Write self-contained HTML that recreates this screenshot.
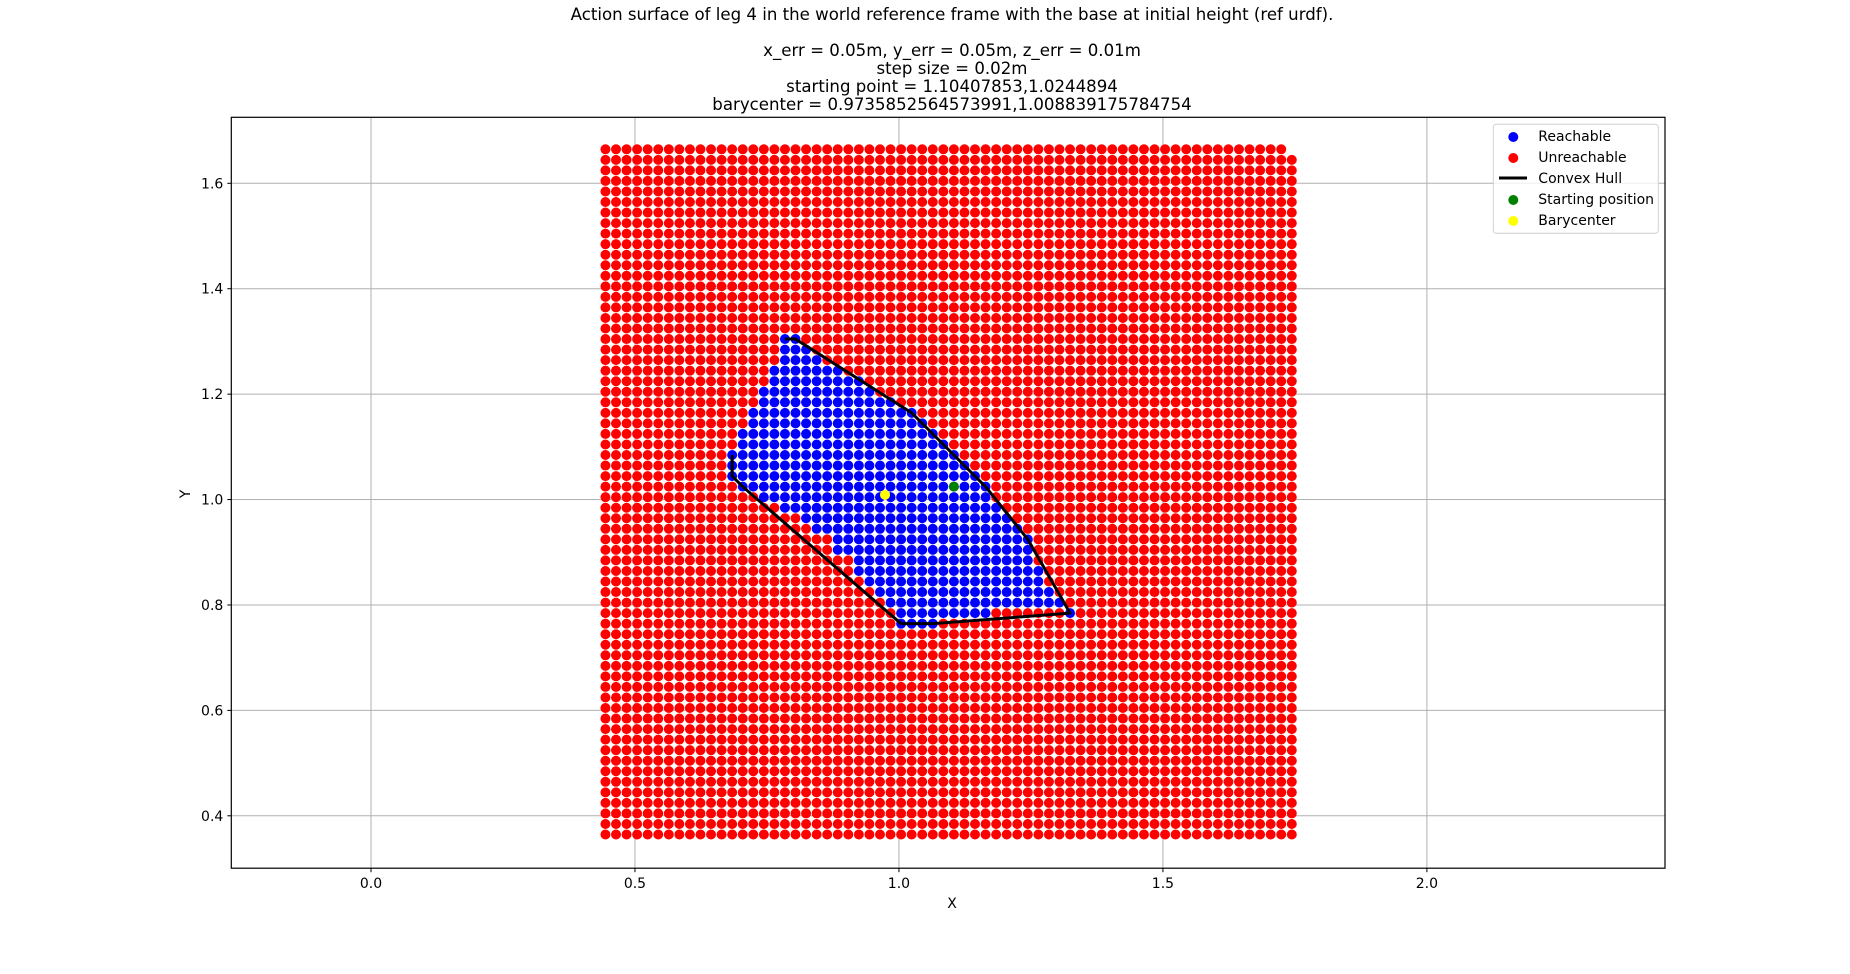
<!DOCTYPE html>
<html><head><meta charset="utf-8"><style>
html,body{margin:0;padding:0;background:#fff;}
svg{display:block;font-family:"DejaVu Sans","Liberation Sans",sans-serif;}
</style></head><body>
<svg id="chart" width="1850" height="974" viewBox="0 0 1850 974" xmlns="http://www.w3.org/2000/svg">
<g font-size="16.6" text-anchor="middle" fill="#000">
<text x="952" y="20">Action surface of leg 4 in the world reference frame with the base at initial height (ref urdf).</text>
<text x="952" y="56">x_err = 0.05m, y_err = 0.05m, z_err = 0.01m</text>
<text x="952" y="74">step size = 0.02m</text>
<text x="952" y="92">starting point = 1.10407853,1.0244894</text>
<text x="952" y="110">barycenter = 0.9735852564573991,1.008839175784754</text>
</g>
<g id="grid"></g>
<g id="ticks"></g>
<g id="plot"></g>
<rect x="231.3" y="117.3" width="1433.7" height="750.9" fill="none" stroke="#000" stroke-width="1.2"/>
<text x="952" y="908" font-size="14" text-anchor="middle">X</text>
<text x="190" y="494" font-size="14" text-anchor="middle" transform="rotate(-90 190 494)">Y</text>
<g>
<rect x="1493.3" y="124.3" width="165" height="109" rx="3" fill="#fff" fill-opacity="0.8" stroke="#d0d0d0"/>
<g><circle cx="1513.3" cy="137" r="5" fill="#0000ff"/><text x="1538.3" y="141" font-size="14">Reachable</text></g>
<g><circle cx="1513.3" cy="158" r="5" fill="#ff0000"/><text x="1538.3" y="162" font-size="14">Unreachable</text></g>
<g><line x1="1499" y1="178" x2="1527" y2="178" stroke="#000" stroke-width="3"/><text x="1538.3" y="183" font-size="14">Convex Hull</text></g>
<g><circle cx="1513.3" cy="200" r="5" fill="#008000"/><text x="1538.3" y="204" font-size="14">Starting position</text></g>
<g><circle cx="1513.3" cy="221" r="5" fill="#ffff00"/><text x="1538.3" y="225" font-size="14">Barycenter</text></g>
</g>
</svg>
<script>
// ---- data ----
const startPoint = [1.10407853, 1.0244894];
const barycenter = [0.9735852564573991, 1.008839175784754];
const stepSize = 0.02;
const gridColMin = -33, gridColMax = 32;
const gridRowMin = -33, gridRowMax = 32;
const reachRows  = [14,13,12,11,10,9,8,7,6,5,4,3,2,1,0,-1,-2,-3,-4,-5,-6,-7,-8,-9,-10,-11,-12,-13];
const reachLeft  = [17,17,17,16,16,15,15,14,14,13,13,12,12,12,13,15,17,19,20,22,22,24,24,25,26,27,28,28];
const reachRight = [18,19,20,22,24,25,27,29,30,31,32,33,34,35,36,36,37,38,39,40,40,40,41,41,42,43,36,31];
const extraReach = [[44,-12]];
const xTicks = [0.0, 0.5, 1.0, 1.5, 2.0];
const yTicks = [0.4, 0.6, 0.8, 1.0, 1.2, 1.4, 1.6];
const xTickLabels = ["0.0","0.5","1.0","1.5","2.0"];
const yTickLabels = ["0.4","0.6","0.8","1.0","1.2","1.4","1.6"];

// ---- axes ----
const AX = {l:231.3, r:1665, t:117.3, b:868.2};
const xMin = -0.2646, xMax = 2.451;
const yPx16 = 183.3, yPx04 = 815.8;
const pxPerY = (yPx04 - yPx16) / 1.2;
const yMax = 1.6 + (yPx16 - AX.t) / pxPerY, yMin = 0.4 - (AX.b - yPx04) / pxPerY;
const sx = v => AX.l + (v - xMin) / (xMax - xMin) * (AX.r - AX.l);
const sy = v => AX.b - (v - yMin) / (yMax - yMin) * (AX.b - AX.t);
const NS = "http://www.w3.org/2000/svg";
function mk(tag, attrs, parent){const e=document.createElementNS(NS,tag);for(const k in attrs)e.setAttribute(k,attrs[k]);parent.appendChild(e);return e;}
const grid=document.getElementById('grid'), ticks=document.getElementById('ticks'), plot=document.getElementById('plot');

xTicks.forEach((v,k)=>{
  const g=mk('line',{x1:sx(v),x2:sx(v),y1:AX.t,y2:AX.b,stroke:'#b0b0b0','stroke-width':1},grid);
  
  
  const t=mk('line',{x1:sx(v),x2:sx(v),y1:AX.b,y2:AX.b+4,stroke:'#000','stroke-width':1},ticks);
  
  
  const l=mk('text',{x:sx(v),y:AX.b+20,'font-size':14,'text-anchor':'middle'},ticks);
  l.textContent=xTickLabels[k];
  
  
});
yTicks.forEach((v,k)=>{
  const g=mk('line',{x1:AX.l,x2:AX.r,y1:sy(v),y2:sy(v),stroke:'#b0b0b0','stroke-width':1},grid);
  
  
  const t=mk('line',{x1:AX.l-4,x2:AX.l,y1:sy(v),y2:sy(v),stroke:'#000','stroke-width':1},ticks);
  
  
  const l=mk('text',{x:AX.l-8,y:sy(v)+5,'font-size':14,'text-anchor':'end'},ticks);
  l.textContent=yTickLabels[k];
  
  
});

const reach = new Set();
reachRows.forEach((j,k)=>{for(let i=reachLeft[k];i<=reachRight[k];i++)reach.add(i+','+j);});
extraReach.forEach(p=>reach.add(p[0]+','+p[1]));
const blue=[], red=[];
for(let j=gridRowMin;j<=gridRowMax;j++){
  for(let c=gridColMin;c<=gridColMax;c++){
    const i=c-gridColMin;
    if(c===gridColMax && j===gridRowMax) continue;
    const p=[startPoint[0]+c*stepSize, startPoint[1]+j*stepSize];
    (reach.has(i+','+j)?blue:red).push(p);
  }
}
const redG=mk('g',{fill:'#ff0000'},plot);


red.forEach(p=>{const c=mk('circle',{cx:sx(p[0]),cy:sy(p[1]),r:5},redG);
  
  });
const blueG=mk('g',{fill:'#0000ff'},plot);


blue.forEach(p=>{const c=mk('circle',{cx:sx(p[0]),cy:sy(p[1]),r:5},blueG);
  
  });

// convex hull (monotone chain); drawn open, missing the top-left edge as in the reference
const pts=blue.slice().sort((a,b)=>a[0]-b[0]||a[1]-b[1]);
const cross=(o,a,b)=>(a[0]-o[0])*(b[1]-o[1])-(a[1]-o[1])*(b[0]-o[0]);
const lower=[],upper=[];
for(const p of pts){while(lower.length>=2&&cross(lower[lower.length-2],lower[lower.length-1],p)<=0)lower.pop();lower.push(p);}
for(let k=pts.length-1;k>=0;k--){const p=pts[k];while(upper.length>=2&&cross(upper[upper.length-2],upper[upper.length-1],p)<=0)upper.pop();upper.push(p);}
const hull=lower.slice(0,-1).concat(upper.slice(0,-1));
let topIdx=0;
hull.forEach((p,k)=>{const q=hull[topIdx];if(p[1]>q[1]+1e-9||(Math.abs(p[1]-q[1])<1e-9&&p[0]<q[0]))topIdx=k;});
const openHull=[];
for(let k=1;k<=hull.length;k++)openHull.push(hull[(topIdx+k)%hull.length]);
const hp=mk('polyline',{points:openHull.map(p=>sx(p[0])+','+sy(p[1])).join(' '),fill:'none',stroke:'#000','stroke-width':3,'stroke-linejoin':'round'},plot);



const sp=mk('circle',{cx:sx(startPoint[0]),cy:sy(startPoint[1]),r:5,fill:'#008000'},plot);


const bc=mk('circle',{cx:sx(barycenter[0]),cy:sy(barycenter[1]),r:5,fill:'#ffff00'},plot);


</script>
</body></html>
